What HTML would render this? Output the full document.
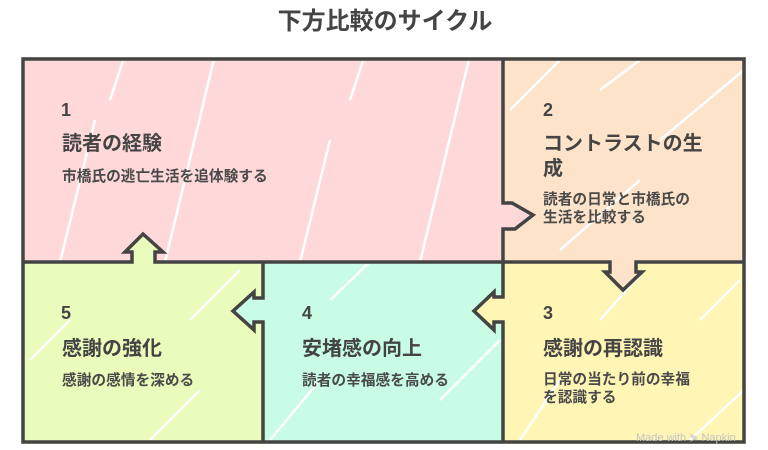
<!DOCTYPE html>
<html><head><meta charset="utf-8">
<style>
html,body{margin:0;padding:0;background:#fff;}
body{width:768px;height:450px;position:relative;overflow:hidden;font-family:"Liberation Sans","Noto Sans CJK JP",sans-serif;color:#444;}
.t{position:absolute;white-space:nowrap;}
.title{left:0;width:770px;text-align:center;top:7px;font-size:24px;line-height:30px;font-weight:bold;font-family:"Liberation Sans","Noto Sans CJK JP",sans-serif;}
.num{font-size:18px;line-height:20px;font-weight:bold;}
.h{font-size:20px;line-height:25px;font-weight:bold;font-family:"Liberation Sans","Noto Sans CJK JP",sans-serif;}
.s{font-size:14.7px;line-height:18px;font-weight:bold;font-family:"Liberation Sans","Noto Sans CJK JP",sans-serif;color:#4a4a4a;}
.wm{font-size:11px;line-height:12px;color:#c4c4c4;}
</style></head>
<body>
<svg width="768" height="450" style="position:absolute;left:0;top:0">
<defs>
<clipPath id="c1"><rect x="23" y="55" width="480" height="207"/></clipPath>
<clipPath id="c2"><rect x="503" y="55" width="244" height="207"/></clipPath>
<clipPath id="c3"><rect x="503" y="262" width="244" height="184"/></clipPath>
<clipPath id="c4"><rect x="263" y="262" width="240" height="184"/></clipPath>
<clipPath id="c5"><rect x="20" y="262" width="243" height="184"/></clipPath>
</defs>
<!-- fills -->
<rect x="23" y="57" width="480" height="205" fill="#FFD9D9"/>
<rect x="503" y="57" width="243" height="205" fill="#FDE3C9"/>
<rect x="503" y="262" width="243" height="182" fill="#FFF6B6"/>
<rect x="263" y="262" width="240" height="182" fill="#C8FCE5"/>
<rect x="23" y="262" width="240" height="182" fill="#EAFCBB"/>
<!-- arrow interiors -->
<polygon points="132,262 132,252 125,252 143,234 163,252 155,252 155,262" fill="#EAFCBB"/>
<polygon points="610,262 610,272 605,272 623,290 642,272 636,272 636,262" fill="#FDE3C9"/>
<polygon points="503,203 512,203 533,215 515,229 503,229" fill="#FFD9D9"/>
<polygon points="503,297 494,297 494,292 474,311 494,330 494,322 503,322" fill="#FFF6B6"/>
<polygon points="263,298 254,298 254,292 233,311 254,330 254,322 263,322" fill="#C8FCE5"/>
<!-- hatching gaps -->
<g stroke="#fff" stroke-width="2.5" clip-path="url(#c1)">
<line x1="165" y1="262" x2="215" y2="55"/>
<line x1="60" y1="262" x2="95" y2="120"/>
<line x1="300" y1="262" x2="330" y2="140"/>
<line x1="420" y1="262" x2="470" y2="55"/>
<line x1="110" y1="100" x2="125" y2="55"/>
<line x1="350" y1="100" x2="365" y2="55"/>
</g>
<g stroke="#fff" stroke-width="2.5" clip-path="url(#c2)">
<line x1="510" y1="110" x2="560" y2="60"/>
<line x1="560" y1="250" x2="640" y2="180"/>
<line x1="660" y1="140" x2="744" y2="70"/>
<line x1="600" y1="90" x2="640" y2="60"/>
</g>
<g stroke="#fff" stroke-width="2.5" clip-path="url(#c3)">
<line x1="520" y1="440" x2="560" y2="380"/>
<line x1="600" y1="320" x2="640" y2="275"/>
<line x1="690" y1="440" x2="744" y2="390"/>
<line x1="700" y1="320" x2="740" y2="280"/>
</g>
<g stroke="#fff" stroke-width="2.5" clip-path="url(#c4)">
<line x1="270" y1="440" x2="320" y2="380"/>
<line x1="330" y1="300" x2="370" y2="262"/>
<line x1="440" y1="400" x2="500" y2="340"/>
</g>
<g stroke="#fff" stroke-width="2.5" clip-path="url(#c5)">
<line x1="30" y1="360" x2="70" y2="320"/>
<line x1="150" y1="440" x2="200" y2="390"/>
<line x1="190" y1="320" x2="240" y2="270"/>
</g>
<!-- borders -->
<g fill="none" stroke="#444" stroke-width="3.5" stroke-linejoin="miter">
<rect x="23" y="59" width="721" height="383"/>
<path d="M23,262 H132 V252 H125 L143,234 L163,252 H155 V262 H610 V272 H605 L623,290 L642,272 H636 V262 H744"/>
<path d="M503,59 V203 H512 L533,215 L515,229 H503 V262"/>
<path d="M503,262 V297 H494 V292 L474,311 L494,330 V322 H503 V442"/>
<path d="M263,262 V298 H254 V292 L233,311 L254,330 V322 H263 V442"/>
</g>
</svg>

<div class="t title">下方比較のサイクル</div>

<div class="t num" style="left:61px;top:100px">1</div>
<div class="t h" style="left:62px;top:132px">読者の経験</div>
<div class="t s" style="left:62px;top:168px">市橋氏の逃亡生活を追体験する</div>

<div class="t num" style="left:543px;top:100px">2</div>
<div class="t h" style="left:543px;top:132px">コントラストの生<br>成</div>
<div class="t s" style="left:543px;top:191px">読者の日常と市橋氏の<br>生活を比較する</div>

<div class="t num" style="left:543px;top:303px">3</div>
<div class="t h" style="left:543px;top:337px">感謝の再認識</div>
<div class="t s" style="left:543px;top:372px;line-height:17.5px">日常の当たり前の幸福<br>を認識する</div>

<div class="t num" style="left:302px;top:303px">4</div>
<div class="t h" style="left:302px;top:337px">安堵感の向上</div>
<div class="t s" style="left:302px;top:372px">読者の幸福感を高める</div>

<div class="t num" style="left:61px;top:303px">5</div>
<div class="t h" style="left:62px;top:337px">感謝の強化</div>
<div class="t s" style="left:62px;top:372px">感謝の感情を深める</div>

<div class="t wm" style="left:636px;top:432px">Made with ⋟ Napkin</div>
</body></html>
